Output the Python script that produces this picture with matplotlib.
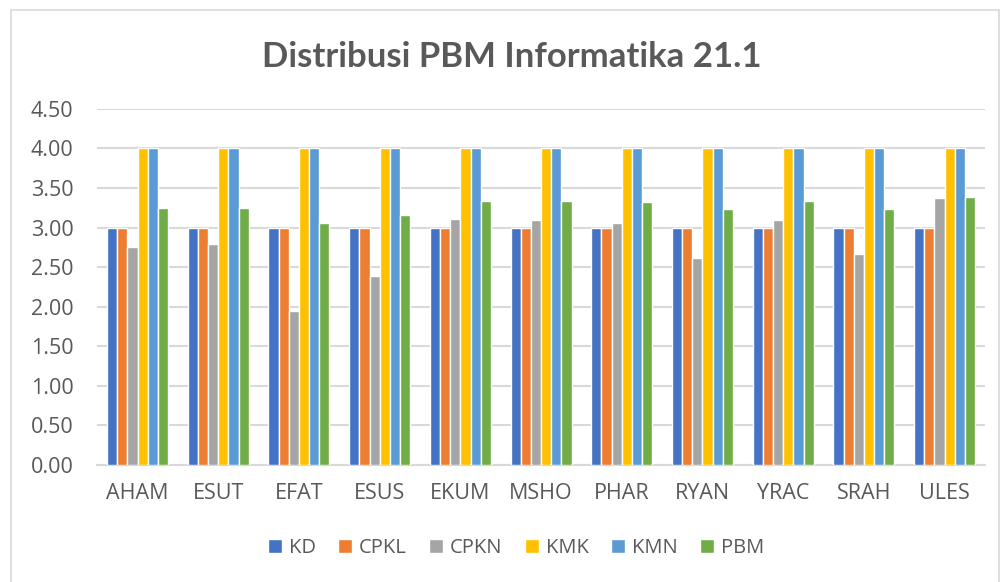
import matplotlib
matplotlib.use("Agg")
import matplotlib.pyplot as plt
from matplotlib.patches import Rectangle
import numpy as np

# data
students = ["AHAM", "ESUT", "EFAT", "ESUS", "EKUM", "MSHO", "PHAR", "RYAN", "YRAC", "SRAH", "ULES"]
kd = [3.00, 3.00, 3.00, 3.00, 3.00, 3.00, 3.00, 3.00, 3.00, 3.00, 3.00]
cpkl = [3.00, 3.00, 3.00, 3.00, 3.00, 3.00, 3.00, 3.00, 3.00, 3.00, 3.00]
cpkn = [2.76, 2.79, 1.95, 2.39, 3.11, 3.10, 3.06, 2.61, 3.10, 2.66, 3.37]
kmk = [4.00, 4.00, 4.00, 4.00, 4.00, 4.00, 4.00, 4.00, 4.00, 4.00, 4.00]
kmn = [4.00, 4.00, 4.00, 4.00, 4.00, 4.00, 4.00, 4.00, 4.00, 4.00, 4.00]
pbm = [3.25, 3.25, 3.06, 3.16, 3.34, 3.34, 3.32, 3.23, 3.34, 3.23, 3.39]

series = ["KD", "CPKL", "CPKN", "KMK", "KMN", "PBM"]
values = [kd, cpkl, cpkn, kmk, kmn, pbm]
colors = ["#4472C4", "#ED7D31", "#A5A5A5", "#FFC000", "#5B9BD5", "#70AD47"]
yticks = [0.0, 0.5, 1.0, 1.5, 2.0, 2.5, 3.0, 3.5, 4.0, 4.5]

TEXT = "#595959"
GRID = "#D9D9D9"

fig = plt.figure(figsize=(10.02, 5.82), dpi=100)
# chart border like Excel
fig.patches.append(Rectangle((0.011, -0.01), 0.986, 0.993, transform=fig.transFigure,
                             fill=False, edgecolor=GRID, linewidth=1.2))

ax = fig.add_axes([0.097, 0.201, 0.886, 0.612])

x = np.arange(len(students))
slot = 0.755 / len(series)
for i, (name, vals, col) in enumerate(zip(series, values, colors)):
    offs = (i - (len(series) - 1) / 2) * slot
    ax.bar(x + offs, vals, width=slot, color=col, edgecolor="white",
           linewidth=1.0, label=name, zorder=3)

ax.set_xlim(-0.5, len(students) - 0.5)
ax.set_ylim(0, 4.5)
ax.set_yticks(yticks)
ax.set_yticklabels([f"{v:.2f}" for v in yticks])
ax.set_xticks(x)
ax.set_xticklabels(students)
ax.grid(axis="y", color=GRID, linewidth=1.5, zorder=0)
for s in ["top", "right", "left"]:
    ax.spines[s].set_visible(False)
ax.spines["bottom"].set_color(GRID)
ax.spines["bottom"].set_linewidth(1.5)
ax.tick_params(axis="both", length=0, labelsize=15.5, labelcolor=TEXT,
               labelfontfamily="Open Sans")
ax.tick_params(axis="x", pad=13)
ax.tick_params(axis="y", pad=17)

fig.text(0.511, 0.902, "Distribusi PBM Informatika 21.1", ha="center", va="center",
         fontsize=25, fontweight="bold", color=TEXT, family="Lato")

leg = fig.legend(loc="center", bbox_to_anchor=(0.515, 0.058), ncol=6, frameon=False,
                 prop={"family": "Open Sans", "size": 14.5}, handlelength=0.7,
                 handleheight=0.7, handletextpad=0.35, columnspacing=1.1)
for t in leg.get_texts():
    t.set_color(TEXT)

fig.savefig("out.png", dpi=100)
